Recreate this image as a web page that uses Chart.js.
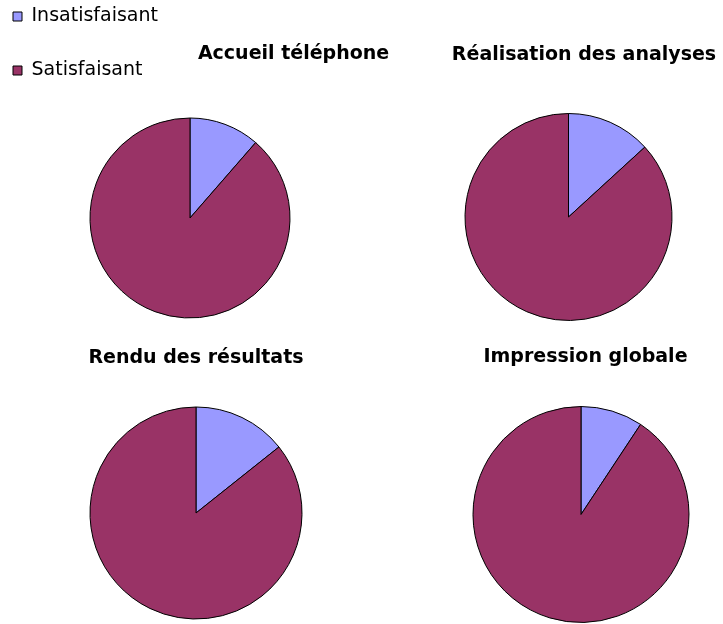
<!DOCTYPE html>
<html lang="fr">
<head>
<meta charset="utf-8">
<title>Satisfaction</title>
<script src="https://cdn.jsdelivr.net/npm/chart.js@4/dist/chart.umd.min.js"></script>
<style>
  html, body { margin: 0; padding: 0; background: #fff; overflow: hidden; }
  #page { position: relative; width: 723px; height: 624px; overflow: hidden; }
  #page canvas { position: absolute; }
</style>
</head>
<body>
<div id="page"></div>
<script>
// data (percent of answers)
const categories = ['Insatisfaisant', 'Satisfaisant'];
const chartTitles = ['Accueil téléphone', 'Réalisation des analyses', 'Rendu des résultats', 'Impression globale'];
const accueilTelephone = [11.4, 88.6];
const realisationAnalyses = [13.2, 86.8];
const renduResultats = [14.3, 85.7];
const impressionGlobale = [9.3, 90.7];

const sliceColors = ['#9999FF', '#993366'];
const FONT = '"DejaVu Sans", Verdana, sans-serif';

// where each pie sits on the page, and where its heading goes relative to it
const layouts = [
  { cx: 190,   cy: 218,   r: 100,   halfW: 212, halfH: 246, dx: 103.5, dy: -164,   legend: true },
  { cx: 568.5, cy: 217,   r: 103.5, halfW: 150, halfH: 175, dx: 15.5,  dy: -162 },
  { cx: 196,   cy: 513,   r: 106,   halfW: 115, halfH: 170, dx: 0,     dy: -154.5 },
  { cx: 581,   cy: 514.5, r: 108,   halfW: 118, halfH: 170, dx: 4.5,   dy: -157.5 },
];
const series = [accueilTelephone, realisationAnalyses, renduResultats, impressionGlobale];

const headingPlugin = {
  id: 'heading',
  afterDraw(chart, args, opts) {
    const { ctx, chartArea } = chart;
    const cx = (chartArea.left + chartArea.right) / 2;
    const cy = (chartArea.top + chartArea.bottom) / 2;
    ctx.save();
    ctx.font = 'bold 19px ' + FONT;
    ctx.fillStyle = '#000';
    ctx.textAlign = 'center';
    ctx.textBaseline = 'middle';
    ctx.fillText(opts.text, cx + opts.dx, cy + opts.dy);
    ctx.restore();
  }
};

const page = document.getElementById('page');

series.forEach((values, i) => {
  const lay = layouts[i];
  const left = Math.round(lay.cx - lay.halfW);
  const top = Math.round(lay.cy - lay.halfH);
  const canvas = document.createElement('canvas');
  canvas.width = 2 * (lay.cx - left);
  canvas.height = 2 * (lay.cy - top);
  canvas.style.left = left + 'px';
  canvas.style.top = top + 'px';
  page.appendChild(canvas);

  new Chart(canvas.getContext('2d'), {
    type: 'pie',
    data: {
      labels: categories,
      datasets: [{
        data: values,
        backgroundColor: sliceColors,
        borderColor: '#000',
        borderWidth: 1,
        hoverOffset: 0,
      }],
    },
    options: {
      responsive: false,
      animation: false,
      events: [],
      radius: lay.r,
      layout: { padding: 0 },
      plugins: {
        tooltip: { enabled: false },
        heading: {
          text: chartTitles[i],
          dx: lay.dx,
          dy: lay.dy,
        },
        legend: {
          display: !!lay.legend,
          position: 'chartArea',
          align: 'start',
          labels: {
            boxWidth: 9,
            boxHeight: 9,
            padding: 35,
            color: '#000',
            font: { size: 19, family: FONT },
          },
        },
      },
    },
    plugins: [headingPlugin],
  });
});
</script>
</body>
</html>
